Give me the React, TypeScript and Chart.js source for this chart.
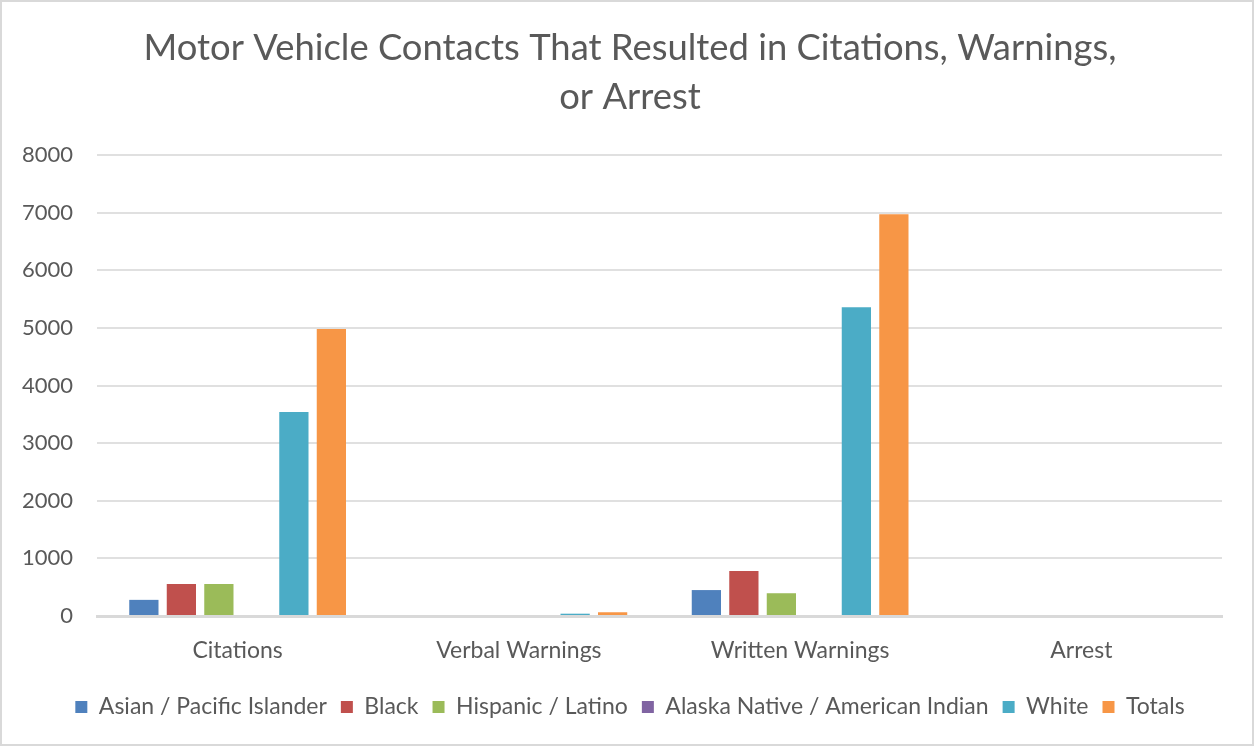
import { useEffect, useRef } from "react";
import { Chart, registerables } from "chart.js";

Chart.register(...registerables);

// Outcome categories along the x axis
const categories = ["Citations", "Verbal Warnings", "Written Warnings", "Arrest"];

// Counts per group for each outcome
const asianPacificIslander = [280, 0, 450, 0];
const black = [555, 0, 780, 0];
const hispanicLatino = [555, 0, 395, 0];
const alaskaNativeAmericanIndian = [0, 0, 0, 0];
const white = [3540, 40, 5360, 0];
const totals = [4980, 65, 6970, 0];

const seriesNames = [
  "Asian / Pacific Islander",
  "Black",
  "Hispanic / Latino",
  "Alaska Native / American Indian",
  "White",
  "Totals",
];
const seriesColors = ["#4F81BD", "#C0504D", "#9BBB59", "#8064A2", "#4BACC6", "#F79646"];

const titleLines = ["Motor Vehicle Contacts That Resulted in Citations, Warnings,", "or Arrest"];
const yMin = 0;
const yMax = 8000;
const yStep = 1000;

const FONT = "Lato, 'Open Sans', sans-serif";
const TEXT = "#595959";

// Plot-area edges, in canvas pixels
const PLOT_LEFT = 95;
const PLOT_RIGHT_GAP = 30;
const PAD_LEFT = 6;

export default function App() {
  const canvasRef = useRef<HTMLCanvasElement | null>(null);

  useEffect(() => {
    const canvas = canvasRef.current;
    if (!canvas) return;
    const values = [asianPacificIslander, black, hispanicLatino, alaskaNativeAmericanIndian, white, totals];
    const chart = new Chart(canvas, {
      type: "bar",
      data: {
        labels: categories,
        datasets: values.map((v, i) => ({
          label: seriesNames[i],
          data: v,
          backgroundColor: seriesColors[i],
          borderWidth: 0,
          categoryPercentage: 0.8,
          barPercentage: 0.78,
          yAxisID: "y",
        })),
      },
      options: {
        responsive: false,
        animation: false,
        layout: { padding: { left: PAD_LEFT, right: 0, top: 0, bottom: 15.5 } },
        plugins: {
          title: {
            display: true,
            text: titleLines,
            color: TEXT,
            font: { family: FONT, size: 36.4, weight: "normal", lineHeight: 49 / 36.4 },
            padding: { top: 21.5, bottom: 33.5 },
          },
          legend: {
            position: "bottom",
            labels: {
              color: TEXT,
              font: { family: FONT, size: 23 },
              boxWidth: 12,
              boxHeight: 12,
              padding: 14,
            },
          },
          tooltip: { enabled: false },
        },
        scales: {
          x: {
            grid: { display: false, drawTicks: false },
            border: { display: true, color: "#d9d9d9", width: 3 },
            ticks: { color: TEXT, font: { family: FONT, size: 23 }, padding: 21 },
            afterFit: (scale: any) => {
              scale.height = 65.5;
            },
          },
          y: {
            min: yMin,
            max: yMax,
            grid: {
              color: "#e0e0e0",
              lineWidth: 2,
              drawTicks: false,
            },
            border: { display: false },
            ticks: {
              stepSize: yStep,
              color: TEXT,
              font: { family: FONT, size: 22 },
              padding: 24,
              callback: (value: any) => String(value),
            },
            afterFit: (scale: any) => {
              scale.width = PLOT_LEFT - PAD_LEFT;
            },
          },
          // Empty right-hand margin beside the plot area
          gap: {
            position: "right",
            display: true,
            grid: { display: false, drawTicks: false },
            border: { display: false },
            ticks: { display: false },
            afterFit: (scale: any) => {
              scale.width = PLOT_RIGHT_GAP;
            },
          },
        },
      },
    });
    return () => chart.destroy();
  }, []);

  return (
    <div
      style={{
        position: "fixed",
        left: 0,
        top: 0,
        width: 1254,
        height: 746,
        boxSizing: "border-box",
        border: "2px solid #d9d9d9",
        background: "#ffffff",
      }}
    >
      <canvas ref={canvasRef} width={1250} height={742} style={{ display: "block", width: 1250, height: 742 }} />
    </div>
  );
}
